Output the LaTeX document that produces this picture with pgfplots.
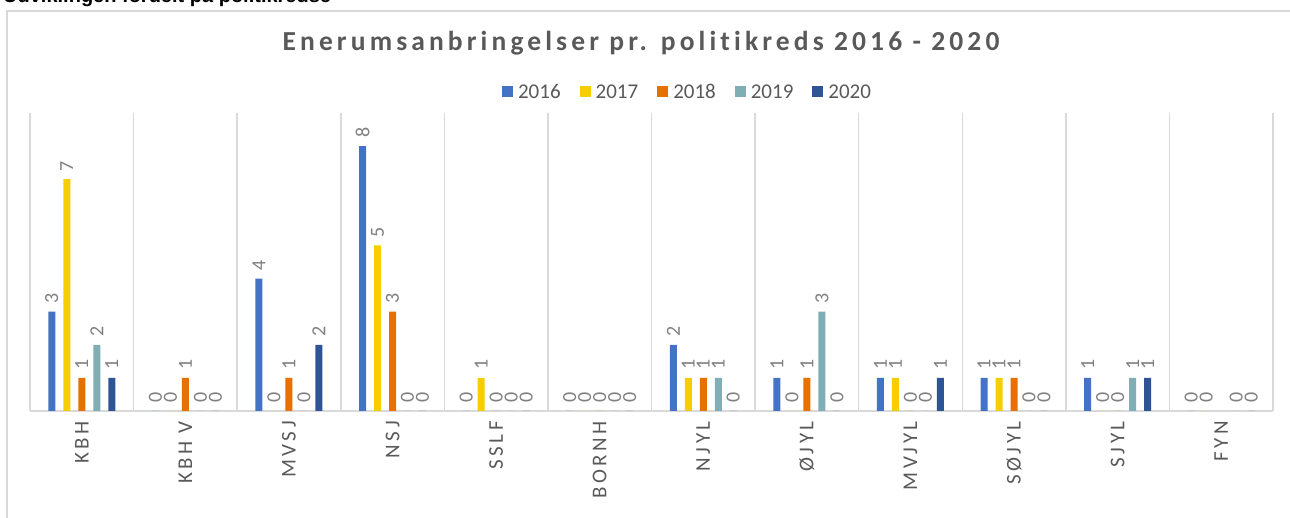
\documentclass[border=0pt]{standalone}
\usepackage{fontspec}
\usepackage{pgfplots}
\pgfplotsset{compat=1.18}
\setmainfont[Ligatures=NoCommon]{Carlito}
\newfontfamily\titlefont[LetterSpace=15,Ligatures=NoCommon]{Carlito}
\newfontfamily\tickfont[LetterSpace=17,Ligatures=NoCommon]{Carlito}
\newfontfamily\headfont{Liberation Sans}
\definecolor{c16}{RGB}{68,114,196}
\definecolor{c17}{RGB}{245,205,0}
\definecolor{c18}{RGB}{230,112,0}
\definecolor{c19}{RGB}{127,174,180}
\definecolor{c20}{RGB}{47,84,150}
\definecolor{gridgray}{RGB}{217,217,217}
\definecolor{txtgray}{RGB}{89,89,89}
\definecolor{lblgray}{RGB}{128,128,128}
\begin{document}
\begin{tikzpicture}
\useasboundingbox (0,0) rectangle (1290pt,518pt);
\node[anchor=base west, inner sep=0pt, font=\headfont\bfseries\fontsize{20}{20}\selectfont] at (3pt,515pt) {Udviklingen fordelt på politikredse};
\draw[gridgray, line width=1.5pt] (7pt,-10pt) -- (7pt,507pt) -- (1300pt,507pt);
\node[anchor=base, inner sep=0pt, text=txtgray, font=\titlefont\bfseries\fontsize{27.5}{27.5}\selectfont] at (641pt,467pt) {Enerumsanbringelser pr. politikreds 2016 - 2020};
\begin{axis}[
  at={(30pt,107pt)}, anchor=south west, scale only axis,
  width=1243pt, height=298pt,
  xmin=-0.5, xmax=11.5, ymin=0, ymax=9,
  ybar=8pt, bar width=7pt,
  /pgf/number format/assume math mode=true,
  xtick={0,...,11},
  xticklabels={KBH, KBH V, MVSJ, NSJ, SSLF, BORNH, NJYL, ØJYL, MVJYL, SØJYL, SJYL, FYN},
  ytick=\empty,
  axis x line=bottom, axis y line=none,
  x axis line style={-, draw=gridgray, line width=1.5pt},
  major tick length=0pt, minor tick length=0pt,
  minor xtick={-0.5,0.5,...,11.5},
  xminorgrids, minor grid style={draw=gridgray, line width=1.5pt},
  xticklabel style={rotate=90, anchor=east, inner xsep=10pt, text=txtgray, font=\tickfont\fontsize{21}{21}\selectfont},
  clip=false,
  nodes near coords,
  every node near coord/.append style={rotate=90, anchor=west, inner xsep=8pt, text=lblgray, font=\fontsize{20}{20}\selectfont},
  legend columns=5,
  legend image code/.code={\fill[#1] (0pt,-5.5pt) rectangle (11pt,5.5pt);},
  legend style={at={(0.5302,1.0705)}, anchor=center, draw=none, fill=none,
    font=\fontsize{21}{21}\selectfont, text=txtgray,
    nodes={inner xsep=5pt},
    /tikz/every even column/.append style={column sep=14pt}},
]
\addplot[fill=c16, draw=none] coordinates {(0,3)(1,0)(2,4)(3,8)(4,0)(5,0)(6,2)(7,1)(8,1)(9,1)(10,1)(11,0)};
\addlegendentry{2016}
\addplot[fill=c17, draw=none] coordinates {(0,7)(1,0)(2,0)(3,5)(4,1)(5,0)(6,1)(7,0)(8,1)(9,1)(10,0)(11,0)};
\addlegendentry{2017}
\addplot[fill=c18, draw=none] coordinates {(0,1)(1,1)(2,1)(3,3)(4,0)(5,0)(6,1)(7,1)(8,0)(9,1)(10,0)};
\addlegendentry{2018}
\addplot[fill=c19, draw=none] coordinates {(0,2)(1,0)(2,0)(3,0)(4,0)(5,0)(6,1)(7,3)(8,0)(9,0)(10,1)(11,0)};
\addlegendentry{2019}
\addplot[fill=c20, draw=none] coordinates {(0,1)(1,0)(2,2)(3,0)(4,0)(5,0)(6,0)(7,0)(8,1)(9,0)(10,1)(11,0)};
\addlegendentry{2020}
\end{axis}
\end{tikzpicture}
\end{document}
